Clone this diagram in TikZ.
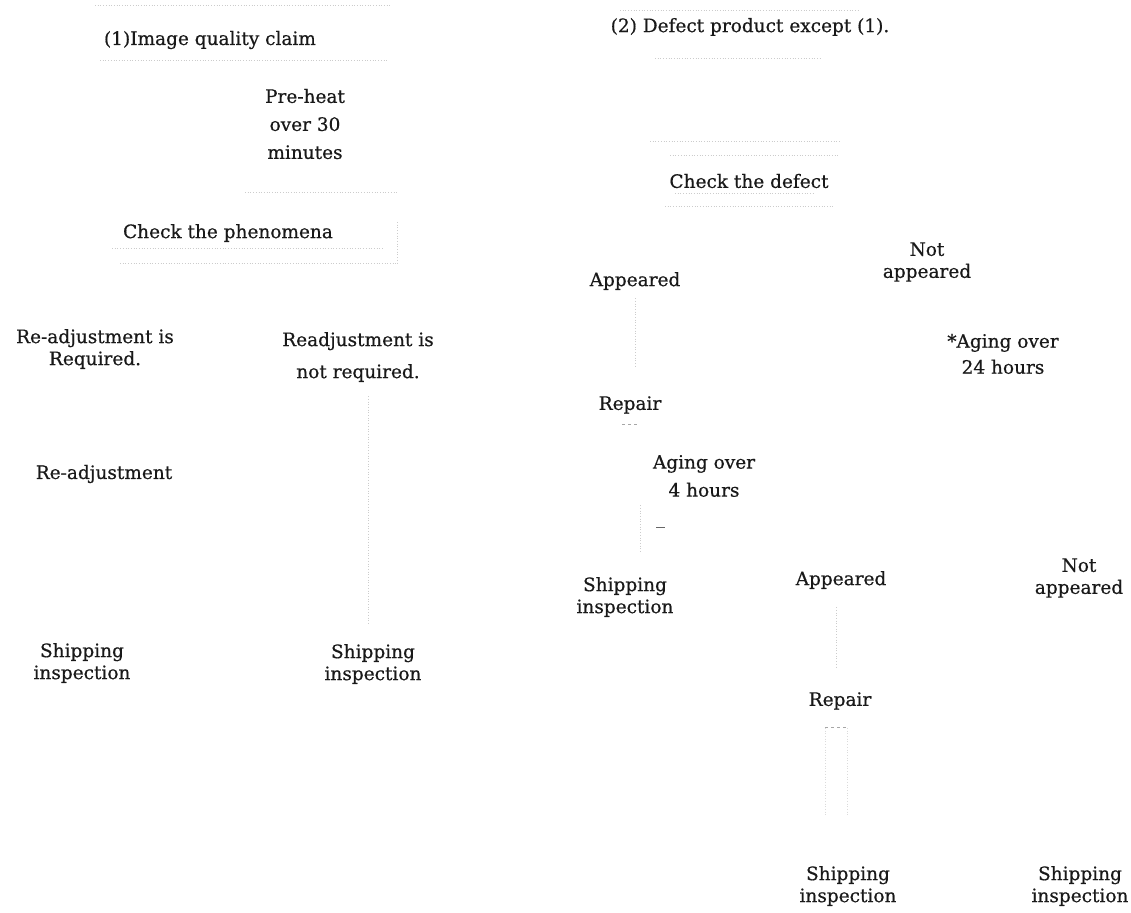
\documentclass[tikz,border=0pt]{standalone}
\usepackage{fontspec}
\setmainfont{DejaVu Serif}[FakeBold=0.5]
\begin{document}
\begin{tikzpicture}[x=1pt,y=-1pt,
  txt/.style={font=\fontsize{18.5}{22}\selectfont, text=black!90, inner sep=0pt, align=center},
  faint/.style={draw=black!20, dotted, line width=0.7pt},
  faintdash/.style={draw=black!35, dashed, line width=0.7pt}]
\useasboundingbox[fill=white] (0,0) rectangle (1131,912);

% nodes
\node[txt] (t1) at (210,40) {(1)Image quality claim};
\node[txt] (t2) at (750,27) {(2) Defect product except (1).};
\node[txt] (pre) at (305,124) {Pre-heat\\[6pt]over 30\\[6pt]minutes};
\node[txt] (chkP) at (228,233) {Check the phenomena};
\node[txt] (chkD) at (749,181) {Check the defect};
\node[txt] (app1) at (635,281) {Appeared};
\node[txt] (nap1) at (927,262) {Not\\appeared};
\node[txt] (reqY) at (95,349) {Re-adjustment is\\Required.};
\node[txt] (reqN) at (358,357) {Readjustment is\\[10pt]not required.};
\node[txt] (age24) at (1003,354) {*Aging over\\[4pt]24 hours};
\node[txt] (rep1) at (630,405) {Repair};
\node[txt] (age4) at (704,476) {Aging over\\[6pt]4 hours};
\node[txt] (readj) at (104,474) {Re-adjustment};
\node[txt] (ship1) at (625,597) {Shipping\\inspection};
\node[txt] (app2) at (841,580) {Appeared};
\node[txt] (nap2) at (1079,578) {Not\\appeared};
\node[txt] (shipL) at (82,663) {Shipping\\inspection};
\node[txt] (shipM) at (373,664) {Shipping\\inspection};
\node[txt] (rep2) at (840,701) {Repair};
\node[txt] (ship3) at (848,886) {Shipping\\inspection};
\node[txt] (ship4) at (1080,886) {Shipping\\inspection};

% faint remnants of boxes
\draw[faint] (95,5) -- (390,5);
\draw[faint] (100,60) -- (388,60);
\draw[faint] (245,192) -- (397,192);
\draw[faint] (112,248) -- (383,248);
\draw[faint] (120,263) -- (397,263);
\draw[faint] (397,222) -- (397,265);
\draw[faint] (620,10) -- (860,10);
\draw[faint] (655,58) -- (820,58);
\draw[faint] (650,141) -- (840,141);
\draw[faint] (670,155) -- (840,155);
\draw[faint] (675,193) -- (815,193);
\draw[faint] (665,206) -- (835,206);

% faint connectors
\coordinate (cN1) at ([xshift=10pt]reqN.south);
\coordinate (cN2) at ([xshift=-5pt]shipM.north);
\draw[faint, shorten <=14pt, shorten >=20pt] (cN1) -- (cN2);
\draw[faint, shorten <=8pt, shorten >=30pt] (app1.south) -- (app1.south |- rep1.north);
\draw[faint, shorten <=18pt, shorten >=25pt] ([xshift=-5pt]app2.south) -- ([xshift=-5pt]app2.south |- rep2.north);
\draw[faint, draw=black!14, shorten <=18pt, shorten >=50pt] ([xshift=-15pt]rep2.south) -- ([xshift=-15pt]rep2.south |- ship3.north);
\draw[faint, draw=black!14, shorten <=18pt, shorten >=50pt] ([xshift=7pt]rep2.south) -- ([xshift=7pt]rep2.south |- ship3.north);
\draw[faintdash] ([xshift=-15pt,yshift=-17pt]rep2.south) -- ([xshift=7pt,yshift=-17pt]rep2.south);
\draw[faintdash] ([xshift=-8pt,yshift=-10pt]rep1.south) -- ([xshift=8pt,yshift=-10pt]rep1.south);
\draw[faint, shorten <=8pt, shorten >=25pt] ([xshift=-64pt]age4.south) -- ([xshift=-64pt]age4.south |- ship1.north);
\draw[draw=black!60, line width=0.8pt] ([xshift=-48pt,yshift=-30pt]age4.south) -- ([xshift=-39pt,yshift=-30pt]age4.south);
\end{tikzpicture}
\end{document}
